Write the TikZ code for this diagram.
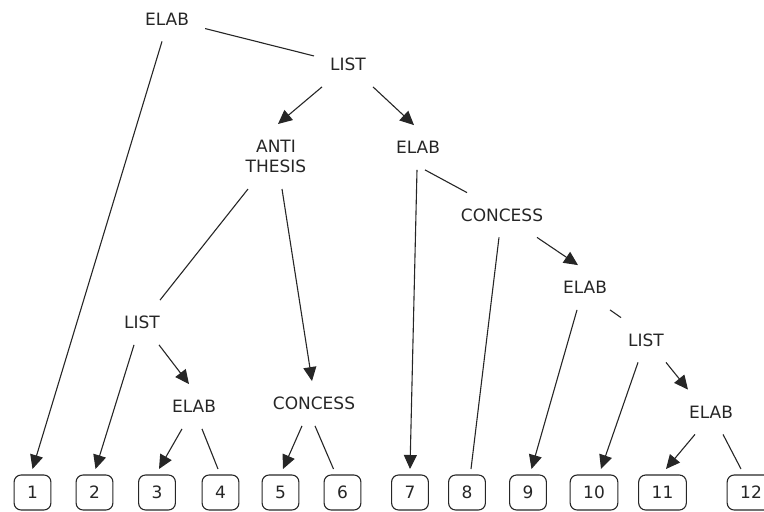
\documentclass[tikz,border=0pt]{standalone}
\usepackage{fontspec}
\setmainfont{DejaVu Sans}
\usetikzlibrary{arrows.meta}
\begin{document}
\begin{tikzpicture}[x=1pt,y=-1pt,
  basefont/.style={font=\fontsize{17}{20}\selectfont, text=black!85},
  rel/.style={basefont, inner xsep=16pt, inner ysep=16pt, text height=12.4pt, text depth=0pt},
  relml/.style={basefont, align=center, inner xsep=16pt, inner ysep=16pt},
  seg/.style={basefont, draw=black!85, line width=1.1pt, rounded corners=7pt,
    minimum height=35pt, minimum width=35pt, inner xsep=13pt, inner ysep=0pt,
    text height=12.4pt, text depth=0pt, outer ysep=6pt},
  link/.style={draw=black!85, line width=1.1pt},
  arr/.style={link, -{Triangle[length=14pt,width=13pt]}}]
\useasboundingbox (0,0) rectangle (764,512);
\clip (0,0) rectangle (764,512);

% relation labels
\node[rel]   (e0) at (167,19)    {ELAB};
\node[rel]   (l1) at (348,64.5)  {LIST};
\node[relml] (at) at (276,156.5) {ANTI\\THESIS};
\node[rel]   (e2) at (418,147.5) {ELAB};
\node[rel]   (c1) at (502,215)   {CONCESS};
\node[rel]   (e3) at (585,287.5) {ELAB};
\node[rel]   (l3) at (646,340)   {LIST};
\node[rel]   (e4) at (711,412)   {ELAB};
\node[rel]   (l2) at (142,322.5) {LIST};
\node[rel]   (e5) at (194,406.5) {ELAB};
\node[rel]   (c2) at (314,403.5) {CONCESS};

% text segments
\node[seg] (n1)  at (32.5,492.5)  {1};
\node[seg] (n2)  at (94.5,492.5)  {2};
\node[seg] (n3)  at (157,492.5)   {3};
\node[seg] (n4)  at (220.5,492.5) {4};
\node[seg] (n5)  at (280.5,492.5) {5};
\node[seg] (n6)  at (342.5,492.5) {6};
\node[seg] (n7)  at (410,492.5)   {7};
\node[seg] (n8)  at (467,492.5)   {8};
\node[seg] (n9)  at (528,492.5)   {9};
\node[seg] (n10) at (594,492.5)   {10};
\node[seg] (n11) at (662.5,492.5) {11};
\node[seg] (n12) at (751,492.5)   {12};

% connectors
\draw[link] (e0) -- (l1);
\draw[arr]  ([xshift=-5pt]e0.south) -- (n1.north);
\draw[arr]  ([xshift=-26pt]l1.south) -- ([xshift=2pt]at.north);
\draw[arr]  ([xshift=25pt]l1.south) -- ([xshift=-4pt]e2.north);
\draw[link] ([xshift=-28pt]at.south) -- ([xshift=18pt]l2.north);
\draw[arr]  ([xshift=6pt]at.south) -- ([xshift=-2pt]c2.north);
\draw[arr]  ([xshift=-8pt]l2.south) -- ([xshift=1pt]n2.north);
\draw[arr]  ([xshift=17pt]l2.south) -- ([xshift=-5pt]e5.north);
\draw[arr]  ([xshift=-12pt]e5.south) -- ([xshift=2pt]n3.north);
\draw[link] ([xshift=8pt]e5.south) -- ([xshift=-2.5pt]n4.north);
\draw[arr]  ([xshift=-12pt]c2.south) -- ([xshift=2.5pt]n5.north);
\draw[link] ([xshift=1pt]c2.south) -- ([xshift=-9pt]n6.north);
\draw[arr]  ([xshift=-1pt]e2.south) -- (n7.north);
\draw[link] ([xshift=7pt]e2.south) -- ([xshift=-35pt]c1.north);
\draw[link] ([xshift=-3pt]c1.south) -- ([xshift=4pt]n8.north);
\draw[arr]  ([xshift=35pt]c1.south) -- ([xshift=-7pt]e3.north);
\draw[arr]  ([xshift=-8pt]e3.south) -- ([xshift=3.5pt]n9.north);
\draw[link] ([xshift=25pt]e3.south) -- ([xshift=-25pt]l3.north);
\draw[arr]  ([xshift=-8pt]l3.south) -- ([xshift=7pt]n10.north);
\draw[arr]  ([xshift=20pt]l3.south) -- ([xshift=-23pt]e4.north);
\draw[arr]  ([xshift=-16pt]e4.south) -- ([xshift=3.5pt]n11.north);
\draw[link] ([xshift=12pt]e4.south) -- ([xshift=-10pt]n12.north);
\end{tikzpicture}
\end{document}
